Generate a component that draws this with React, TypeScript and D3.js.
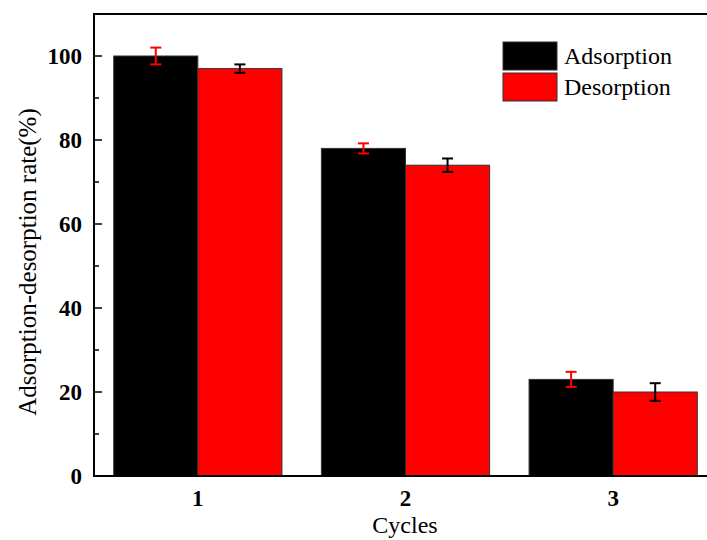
import React, { useEffect, useRef } from 'react';
import * as d3 from 'd3';

const cycles = ['1', '2', '3'];
const adsorption = [100, 78, 23];
const adsorptionErr = [2, 1.2, 1.8];
const desorption = [97, 74, 20];
const desorptionErr = [1, 1.6, 2.1];
const yTicks = [0, 20, 40, 60, 80, 100];
const yMinorTicks = [10, 30, 50, 70, 90];

const App = () => {
  const ref = useRef<SVGSVGElement | null>(null);
  const width = 707;
  const height = 540;
  const margin = { top: 14, right: -10, bottom: 64, left: 94 };

  useEffect(() => {
    const svg = d3.select(ref.current);
    svg.selectAll('*').remove();
    const font = '"Liberation Serif", "Times New Roman", serif';

    const x = d3
      .scaleLinear()
      .domain([0.5, 3.5])
      .range([margin.left, width - margin.right]);
    const y = d3
      .scaleLinear()
      .domain([0, 110])
      .range([height - margin.bottom, margin.top]);

    const step = x(2) - x(1);
    const barW = step * 0.405;

    const series = [
      { name: 'Adsorption', values: adsorption, err: adsorptionErr, fill: '#000000', errColor: '#ff0000', offset: -1 },
      { name: 'Desorption', values: desorption, err: desorptionErr, fill: '#ff0000', errColor: '#000000', offset: 0 },
    ];

    series.forEach((s) => {
      s.values.forEach((v, i) => {
        const cx = x(i + 1);
        const left = cx + s.offset * barW;
        svg
          .append('rect')
          .attr('x', left)
          .attr('y', y(v))
          .attr('width', barW)
          .attr('height', y(0) - y(v))
          .attr('fill', s.fill)
          .attr('stroke', '#333')
          .attr('stroke-width', 1);
      });
    });

    // error bars
    series.forEach((s) => {
      s.values.forEach((v, i) => {
        const bx = x(i + 1) + s.offset * barW + barW / 2;
        const g = svg.append('g').attr('stroke', s.errColor).attr('stroke-width', 2);
        g.append('line').attr('x1', bx).attr('x2', bx).attr('y1', y(v + s.err[i])).attr('y2', y(v - s.err[i]));
        [v + s.err[i], v - s.err[i]].forEach((e) => {
          g.append('line').attr('x1', bx - 5.5).attr('x2', bx + 5.5).attr('y1', y(e)).attr('y2', y(e));
        });
      });
    });

    // frame
    svg
      .append('path')
      .attr('d', `M${x(3.5) + 5},${y(110)} H${x(0.5)} V${y(0)} H${x(3.5) + 5}`)
      .attr('fill', 'none')
      .attr('stroke', '#000')
      .attr('stroke-width', 2);

    // y ticks (inward)
    yTicks.forEach((t) => {
      svg.append('line').attr('x1', x(0.5)).attr('x2', x(0.5) + 8).attr('y1', y(t)).attr('y2', y(t)).attr('stroke', '#000').attr('stroke-width', 1.5);
      svg
        .append('text')
        .attr('x', x(0.5) - 12)
        .attr('y', y(t))
        .attr('dy', '0.35em')
        .attr('text-anchor', 'end')
        .style('font-family', font)
        .style('font-weight', 'bold')
        .style('font-size', '23px')
        .text(t);
    });
    yMinorTicks.forEach((t) => {
      svg.append('line').attr('x1', x(0.5)).attr('x2', x(0.5) + 5).attr('y1', y(t)).attr('y2', y(t)).attr('stroke', '#000').attr('stroke-width', 1.5);
    });

    // x labels
    cycles.forEach((c, i) => {
      svg
        .append('text')
        .attr('x', x(i + 1))
        .attr('y', y(0) + 30)
        .attr('text-anchor', 'middle')
        .style('font-family', font)
        .style('font-weight', 'bold')
        .style('font-size', '23px')
        .text(c);
    });

    // axis titles
    svg
      .append('text')
      .attr('x', 405)
      .attr('y', 533)
      .attr('text-anchor', 'middle')
      .style('font-family', font)
      .style('font-size', '24px')
      .text('Cycles');

    svg
      .append('text')
      .attr('transform', 'translate(36, 262) rotate(-90)')
      .attr('text-anchor', 'middle')
      .style('font-family', font)
      .style('font-size', '25px')
      .text('Adsorption-desorption rate(%)');

    // legend
    const legend = svg.append('g').attr('transform', 'translate(503, 42)');
    series.forEach((s, i) => {
      legend
        .append('rect')
        .attr('x', 0)
        .attr('y', i * 31)
        .attr('width', 54)
        .attr('height', 28)
        .attr('fill', s.fill)
        .attr('stroke', '#333')
        .attr('stroke-width', 1);
      legend
        .append('text')
        .attr('x', 61)
        .attr('y', i * 31 + 22)
        .style('font-family', font)
        .style('font-size', '24px')
        .text(s.name);
    });
  }, []);

  return (
    <svg
      ref={ref}
      width={width}
      height={height}
      style={{ position: 'absolute', left: 0, top: 0, background: '#fff' }}
    />
  );
};

export default App;
